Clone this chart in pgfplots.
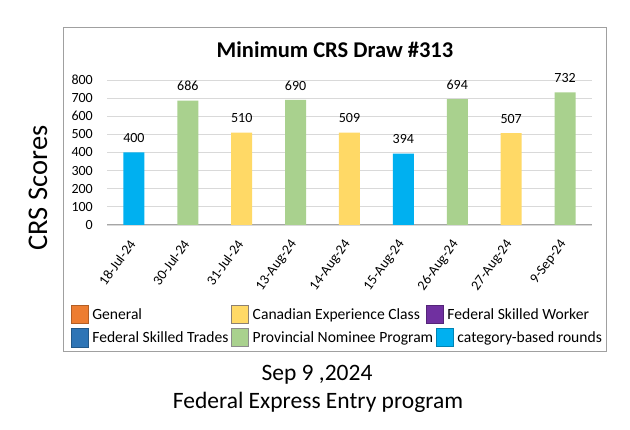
\documentclass[border=0pt]{standalone}
\usepackage{fontspec}
\setmainfont{Carlito}
\usepackage{pgfplots}
\pgfplotsset{compat=1.18}
\definecolor{cBlue}{HTML}{00B0F0}
\definecolor{cGreen}{HTML}{A9D18E}
\definecolor{cYellow}{HTML}{FFD966}
\definecolor{cOrange}{HTML}{ED7D31}
\definecolor{cDBlue}{HTML}{2E75B6}
\definecolor{cPurple}{HTML}{7030A0}
\definecolor{cGrid}{HTML}{D9D9D9}
\definecolor{cAxis}{HTML}{A6A6A6}
\definecolor{cFrame}{HTML}{A0A0A0}
\begin{document}
\begin{tikzpicture}
\path[use as bounding box, fill=white] (0,0) rectangle (630pt,430pt);
\draw[cFrame, line width=1pt] (63pt,78pt) rectangle (606pt,402pt);
\node[font=\fontsize{22.5pt}{26pt}\selectfont\bfseries] at (335pt,380pt) {Minimum CRS Draw \#313};
\node[rotate=90, font=\fontsize{28.5pt}{32pt}\selectfont] at (38pt,242pt) {CRS Scores};
\node[font=\fontsize{23.5pt}{26pt}\selectfont] at (317pt,55pt) {Sep 9 ,2024};
\node[font=\fontsize{23.5pt}{26pt}\selectfont] at (318pt,28pt) {Federal Express Entry program};
\begin{axis}[
  at={(107pt,205pt)}, anchor=south west,
  scale only axis, width=485pt, height=145pt,
  xmin=-0.5, xmax=8.5, ymin=0, ymax=800,
  clip=false,
  ybar, bar width=21pt,
  axis x line*=bottom, axis y line*=left,
  y axis line style={draw=none},
  x axis line style={draw=cAxis, line width=1pt, -},
  major tick length=0pt,
  ymajorgrids, grid style={draw=cGrid, line width=0.8pt},
  ytick={0,100,...,800},
  xtick={0,...,8},
  xticklabels={18-Jul-24,30-Jul-24,31-Jul-24,13-Aug-24,14-Aug-24,15-Aug-24,26-Aug-24,27-Aug-24,9-Sep-24},
  /pgf/number format/assume math mode=true,
  tick label style={font=\fontsize{14pt}{16pt}\selectfont},
  yticklabel style={anchor=east, inner sep=0pt, xshift=-14pt},
  xticklabel style={inner sep=0pt, xshift=-1.5pt, yshift=-16.5pt, rotate=54, anchor=east},
  nodes near coords,
  every node near coord/.append style={anchor=center, yshift=14.5pt, font=\fontsize{14pt}{16pt}\selectfont, /pgf/number format/assume math mode=true},
  legend columns=3,
  legend cell align=left,
  legend style={at={(axis description cs:-0.0742,-0.5517)}, anchor=north west,
    inner sep=0pt, outer sep=0pt, draw=none, fill=none,
    row sep=4.5pt,
    nodes={inner sep=0pt, font=\fontsize{15.6pt}{19pt}\selectfont},
    /tikz/every odd column/.style={column sep=3.5pt},
    /tikz/every even column/.style={column sep=3pt}},
]
\addplot[fill=cBlue, draw=none, bar shift=0pt, forget plot] coordinates {(0,400) (5,394)};
\addplot[fill=cGreen, draw=none, bar shift=0pt, forget plot] coordinates {(1,686) (3,690) (6,694) (8,732)};
\addplot[fill=cYellow, draw=none, bar shift=0pt, forget plot] coordinates {(2,510) (4,509) (7,507)};
\addlegendimage{legend image code/.code={\draw[fill=cOrange, draw=cOrange!75!black, line width=0.8pt] (0pt,-9pt) rectangle (17pt,9pt);}}
\addlegendentry{General}
\addlegendimage{legend image code/.code={\draw[fill=cYellow, draw=gray!80!brown, line width=0.8pt] (0pt,-9pt) rectangle (17pt,9pt);}}
\addlegendentry{Canadian Experience Class}
\addlegendimage{legend image code/.code={\path[draw=none, fill=none] (0pt,-9pt) rectangle (17pt,9pt); \draw[overlay, fill=cPurple, draw=cPurple!75!black, line width=0.8pt] (-10pt,-9pt) rectangle (7pt,9pt);}}
\addlegendentry{\hspace*{-10pt}Federal Skilled Worker}
\addlegendimage{legend image code/.code={\draw[fill=cDBlue, draw=cDBlue!75!black, line width=0.8pt] (0pt,-10pt) rectangle (17pt,9pt);}}
\addlegendentry{Federal Skilled Trades}
\addlegendimage{legend image code/.code={\draw[fill=cGreen, draw=gray!90, line width=0.8pt] (0pt,-9pt) rectangle (17pt,9pt);}}
\addlegendentry{Provincial Nominee Program}
\addlegendimage{legend image code/.code={\draw[fill=cBlue, draw=cBlue!75!black, line width=0.8pt] (0pt,-9pt) rectangle (17pt,9pt);}}
\addlegendentry{category-based rounds}
\end{axis}
\end{tikzpicture}
\end{document}
